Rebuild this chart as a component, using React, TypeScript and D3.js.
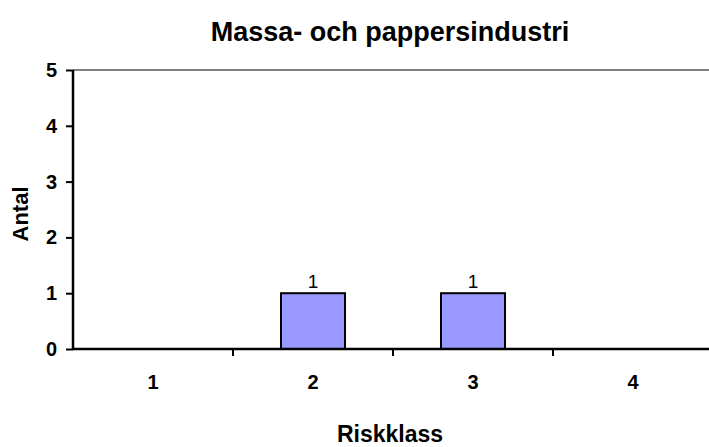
import React, { useEffect, useRef } from "react";
import * as d3 from "d3";

const categories = ["1", "2", "3", "4"];
const values = [0, 1, 1, 0];
const yTicks = [0, 1, 2, 3, 4, 5];

const width = 709;
const height = 447;
const margin = { top: 70, right: -4, bottom: 98, left: 73 };

export default function App() {
    const ref = useRef<SVGSVGElement>(null);

    useEffect(() => {
        document.body.style.margin = "0";
        const svg = d3.select(ref.current);
        svg.selectAll("*").remove();

        const innerWidth = width - margin.left - margin.right;
        const innerHeight = height - margin.top - margin.bottom;
        const font = "'Liberation Sans', Arial, sans-serif";

        const xScale = d3.scaleBand().domain(categories).range([0, innerWidth]).paddingInner(0.6).paddingOuter(0.3);
        const xBand = d3.scaleBand().domain(categories).range([0, innerWidth]);
        const yScale = d3.scaleLinear().domain([0, 5]).range([innerHeight, 0]);

        const g = svg.append("g").attr("transform", `translate(${margin.left}, ${margin.top})`);

        // top border line
        g.append("line")
            .attr("x1", 0).attr("x2", innerWidth)
            .attr("y1", yScale(5)).attr("y2", yScale(5))
            .attr("stroke", "#808080").attr("stroke-width", 2);

        // bars
        const data = categories.map((c, i) => ({ c, v: values[i] }));
        g.selectAll("rect.bar")
            .data(data.filter(d => d.v > 0))
            .enter()
            .append("rect")
            .attr("class", "bar")
            .attr("x", d => xScale(d.c)!)
            .attr("y", d => yScale(d.v))
            .attr("width", xScale.bandwidth())
            .attr("height", d => innerHeight - yScale(d.v))
            .attr("fill", "#9999FF")
            .attr("stroke", "#000")
            .attr("stroke-width", 2);

        g.selectAll("text.val")
            .data(data.filter(d => d.v > 0))
            .enter()
            .append("text")
            .attr("class", "val")
            .attr("x", d => xScale(d.c)! + xScale.bandwidth() / 2)
            .attr("y", d => yScale(d.v) - 5)
            .attr("text-anchor", "middle")
            .attr("font-family", font)
            .attr("font-size", 19)
            .text(d => d.v);

        // y axis
        const yAxis = g.append("g")
            .call(d3.axisLeft(yScale).tickValues(yTicks).tickSize(7).tickPadding(9).tickFormat(d3.format("d")));
        yAxis.select(".domain").attr("stroke", "#000").attr("stroke-width", 2.5).attr("d", `M0,${yScale(5)}V${innerHeight}`);
        yAxis.selectAll(".tick line").attr("stroke", "#000").attr("stroke-width", 2);
        yAxis.selectAll(".tick text").attr("font-family", font).attr("font-size", 20).attr("font-weight", "bold").attr("fill", "#000");

        // x axis
        const xAxis = g.append("g").attr("transform", `translate(0, ${innerHeight})`);
        xAxis.append("line")
            .attr("x1", 0).attr("x2", innerWidth)
            .attr("stroke", "#000").attr("stroke-width", 2.5);
        xAxis.selectAll("line.tk")
            .data(categories.slice(1))
            .enter()
            .append("line")
            .attr("class", "tk")
            .attr("x1", d => xBand(d)!).attr("x2", d => xBand(d)!)
            .attr("y1", 0).attr("y2", 7)
            .attr("stroke", "#000").attr("stroke-width", 2);
        xAxis.selectAll("text")
            .data(categories)
            .enter()
            .append("text")
            .attr("x", d => xBand(d)! + xBand.bandwidth() / 2)
            .attr("y", 40)
            .attr("text-anchor", "middle")
            .attr("font-family", font)
            .attr("font-size", 20)
            .attr("font-weight", "bold")
            .text(d => d);

        // title
        svg.append("text")
            .attr("x", 390).attr("y", 41)
            .attr("text-anchor", "middle")
            .attr("font-family", font).attr("font-size", 27).attr("font-weight", "bold")
            .text("Massa- och pappersindustri");

        svg.append("text")
            .attr("x", 390).attr("y", 442)
            .attr("text-anchor", "middle")
            .attr("font-family", font).attr("font-size", 23).attr("font-weight", "bold")
            .text("Riskklass");

        svg.append("text")
            .attr("transform", `translate(28, 214) rotate(-90)`)
            .attr("text-anchor", "middle")
            .attr("font-family", font).attr("font-size", 22).attr("font-weight", "bold")
            .text("Antal");
    }, []);

    return <svg ref={ref} width={width} height={height} style={{ display: "block" }} />;
}
